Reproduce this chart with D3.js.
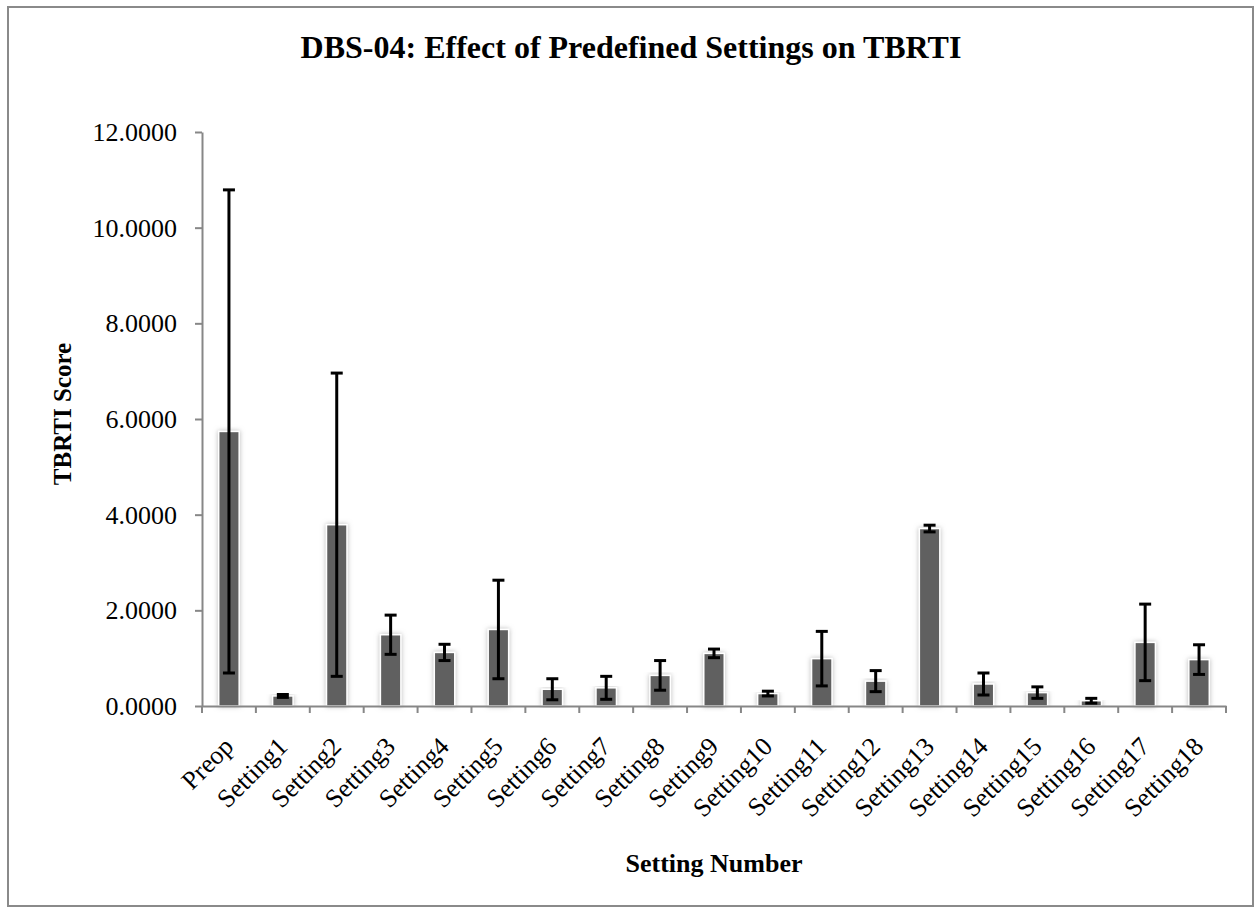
<!DOCTYPE html>
<html>
<head>
<meta charset="utf-8">
<style>
  body { margin: 0; background: #fff; }
  text { font-family: "Liberation Serif", "Times New Roman", serif; fill: #000; }
  .axis path, .axis line { stroke: #878787; stroke-width: 2px; }
</style>
<script src="https://d3js.org/d3.v7.min.js"></script>
</head>
<body>
<div id="chart"></div>
<script>
// categories and values
var categories = ["Preop", "Setting1", "Setting2", "Setting3", "Setting4", "Setting5", "Setting6",
  "Setting7", "Setting8", "Setting9", "Setting10", "Setting11", "Setting12", "Setting13",
  "Setting14", "Setting15", "Setting16", "Setting17", "Setting18"];
var means = [5.74, 0.21, 3.79, 1.49, 1.12, 1.60, 0.35, 0.38, 0.64, 1.10, 0.26, 0.99, 0.52, 3.71,
  0.46, 0.28, 0.11, 1.33, 0.97];
var errors = [5.05, 0.03, 3.17, 0.41, 0.17, 1.03, 0.22, 0.24, 0.31, 0.09, 0.05, 0.57, 0.22, 0.07,
  0.23, 0.12, 0.05, 0.80, 0.31];
var yTicks = [0, 2, 4, 6, 8, 10, 12];

var W = 1255, H = 907;
var plotLeft = 202, plotRight = 1226, plotTop = 132, plotBottom = 706;

var svg = d3.select("#chart").append("svg")
  .attr("width", W).attr("height", H);

// soft halo around the bars
var defs = svg.append("defs");
var f = defs.append("filter").attr("id", "glow")
  .attr("x", "-50%").attr("y", "-10%").attr("width", "200%").attr("height", "120%");
f.append("feDropShadow").attr("dx", 0).attr("dy", 0).attr("stdDeviation", 2.5)
  .attr("flood-color", "#9a9a9a").attr("flood-opacity", 0.7);

// outer frame
svg.append("rect")
  .attr("x", 8).attr("y", 7).attr("width", 1245).attr("height", 899)
  .attr("fill", "none").attr("stroke", "#8a8a8a").attr("stroke-width", 2);

var x = d3.scaleBand().domain(categories).range([plotLeft, plotRight])
  .paddingInner(0.62).paddingOuter(0.31);
var y = d3.scaleLinear().domain([0, 12]).range([plotBottom, plotTop]);

// bars
svg.append("g").selectAll("rect")
  .data(categories)
  .enter().append("rect")
    .attr("x", function(d) { return x(d); })
    .attr("y", function(d, i) { return y(means[i]); })
    .attr("width", x.bandwidth())
    .attr("height", function(d, i) { return y(0) - y(means[i]); })
    .attr("fill", "#616161")
    .attr("stroke", "#ffffff")
    .attr("stroke-width", 1.5)
    .attr("filter", "url(#glow)");

// y axis
var yAxis = svg.append("g")
  .attr("class", "axis")
  .attr("transform", "translate(" + plotLeft + ",0)")
  .call(d3.axisLeft(y).tickValues(yTicks).tickFormat(d3.format(".4f"))
    .tickSize(7).tickSizeOuter(0).tickPadding(18));
yAxis.selectAll("text").style("font-size", "26px").attr("dy", "0.33em");

// x axis line + boundary ticks
var xAxis = svg.append("g")
  .attr("class", "axis")
  .attr("transform", "translate(0," + plotBottom + ")")
  .call(d3.axisBottom(x).tickSize(0).tickSizeOuter(0).tickPadding(0));
xAxis.selectAll(".tick text").remove();
xAxis.selectAll(".bound")
  .data(d3.range(categories.length + 1))
  .enter().append("line")
    .attr("class", "bound")
    .attr("x1", function(i) { return plotLeft + i * x.step(); })
    .attr("x2", function(i) { return plotLeft + i * x.step(); })
    .attr("y1", 0).attr("y2", 7);

// error bars
var eb = svg.append("g").selectAll("g")
  .data(categories)
  .enter().append("g")
    .attr("transform", function(d) { return "translate(" + (x(d) + x.bandwidth() / 2) + ",0)"; });
eb.append("line")
  .attr("x1", 0).attr("x2", 0)
  .attr("y1", function(d, i) { return y(means[i] + errors[i]); })
  .attr("y2", function(d, i) { return y(Math.max(0, means[i] - errors[i])); })
  .attr("stroke", "#000").attr("stroke-width", 3);
eb.append("line")
  .attr("x1", -6).attr("x2", 6)
  .attr("y1", function(d, i) { return y(means[i] + errors[i]); })
  .attr("y2", function(d, i) { return y(means[i] + errors[i]); })
  .attr("stroke", "#000").attr("stroke-width", 3);
eb.append("line")
  .attr("x1", -6).attr("x2", 6)
  .attr("y1", function(d, i) { return y(Math.max(0, means[i] - errors[i])); })
  .attr("y2", function(d, i) { return y(Math.max(0, means[i] - errors[i])); })
  .attr("stroke", "#000").attr("stroke-width", 3);

// rotated category labels
svg.append("g").selectAll("text")
  .data(categories)
  .enter().append("text")
    .attr("transform", function(d) {
      return "translate(" + (x(d) + x.bandwidth() / 2 + 6) + "," + (plotBottom + 42) + ") rotate(-45)";
    })
    .attr("text-anchor", "end")
    .style("font-size", "26px")
    .text(function(d) { return d; });

// titles
svg.append("text")
  .attr("x", 631).attr("y", 58)
  .attr("text-anchor", "middle")
  .style("font-size", "32px").style("font-weight", "bold")
  .text("DBS-04: Effect of Predefined Settings on TBRTI");

svg.append("text")
  .attr("transform", "translate(71,414) rotate(-90)")
  .attr("text-anchor", "middle")
  .style("font-size", "25px").style("font-weight", "bold")
  .text("TBRTI Score");

svg.append("text")
  .attr("x", 714).attr("y", 872)
  .attr("text-anchor", "middle")
  .style("font-size", "26px").style("font-weight", "bold")
  .text("Setting Number");
</script>
</body>
</html>
